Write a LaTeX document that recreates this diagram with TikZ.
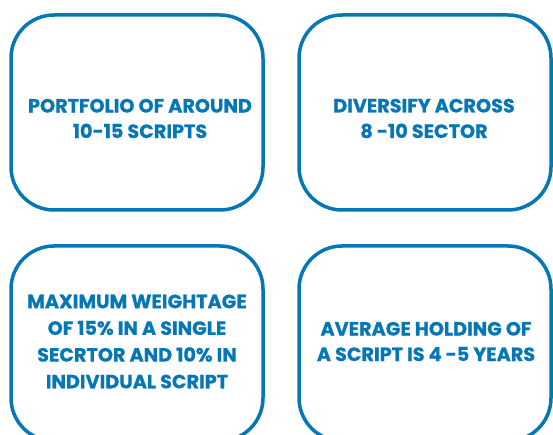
\documentclass[tikz,border=0pt]{standalone}
\usepackage{fontspec}
\setmainfont{Poppins}[UprightFont=* Bold, BoldFont=* Bold, FakeBold=0.6]
\definecolor{mblue}{RGB}{5,119,182}
\begin{document}
\begin{tikzpicture}[x=1pt,y=1pt,
  box/.style={draw=mblue, line width=3.5pt, rounded corners=43pt, fill=white,
              minimum width=252pt, minimum height=195pt, inner sep=0pt},
  txt/.style={text=mblue, align=center, inner sep=0pt,
              font=\fontsize{19.2}{25.5}\selectfont}]
\useasboundingbox (0,0) rectangle (553,-435);
\node[box] (b1) at (137,-112.5) {};
\node[box] (b2) at (425,-112.5) {};
\node[box] (b3) at (137,-343.5) {};
\node[box] (b4) at (425,-343.5) {};
\node[txt] (t1) at (140,-118.5) {PORTFOLIO OF AROUND\\10-15 SCRIPTS};
\node[txt] (t2) at (424,-118.5) {DIVERSIFY ACROSS\\8 -10 SECTOR};
\node[txt, font=\fontsize{19.2}{26.7}\selectfont] (t3) at (137,-341.5) {MAXIMUM WEIGHTAGE\\OF 15\% IN A SINGLE\\SECRTOR AND 10\% IN\\INDIVIDUAL SCRIPT};
\node[txt] (t4) at (426,-341.5) {AVERAGE HOLDING OF\\A SCRIPT IS 4 -5 YEARS};
\end{tikzpicture}
\end{document}
